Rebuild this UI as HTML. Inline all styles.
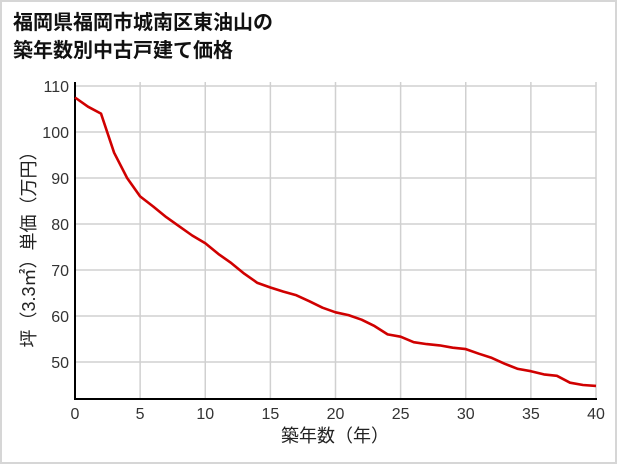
<!DOCTYPE html>
<html><head><meta charset="utf-8"><style>
body{margin:0;background:#fff;}
svg{display:block;font-family:"Liberation Sans","Noto Sans CJK JP",sans-serif;}
</style></head><body>
<svg id="s" width="621" height="465" xmlns="http://www.w3.org/2000/svg">
<rect x="1" y="1" width="615" height="462" fill="#fff" stroke="#d6d6d6" stroke-width="2"/>
<text x="13" y="29" font-size="20" font-weight="bold" fill="#111">福岡県福岡市城南区東油山の</text>
<text x="13" y="57" font-size="20" font-weight="bold" fill="#111">築年数別中古戸建て価格</text>
<g id="g" stroke="#d0d0d0" stroke-width="1.5"></g>
<g id="t" font-size="16" fill="#333"></g>
<line x1="75" y1="82" x2="75" y2="399" stroke="#000" stroke-width="2"/>
<line x1="74" y1="399" x2="597" y2="399" stroke="#000" stroke-width="2"/>
<path id="p" fill="none" stroke="#d00000" stroke-width="2.6" stroke-linejoin="round"/>
<text x="335" y="442" font-size="18" fill="#222" text-anchor="middle">築年数（年）</text>
<text transform="translate(35,245) rotate(-90)" font-size="18" fill="#222" text-anchor="middle">坪（3.3㎡）単価（万円）</text>
</svg>
<script>
var X=function(t){return 75+t*13.025},Y=function(v){return 86+(110-v)*4.6};
var g=document.getElementById('g'),tt=document.getElementById('t'),h='';
var s='';
for(var k=1;k<=8;k++){s+='<line x1="'+X(k*5)+'" y1="82" x2="'+X(k*5)+'" y2="399"/>';}
for(var v=50;v<=110;v+=10){s+='<line x1="75" y1="'+Y(v)+'" x2="596" y2="'+Y(v)+'"/>';h+='<text x="69" y="'+(Y(v)+6)+'" text-anchor="end">'+v+'</text>';}
for(var k=0;k<=8;k++){h+='<text x="'+X(k*5)+'" y="419" text-anchor="middle">'+(k*5)+'</text>';}
g.innerHTML=s;tt.innerHTML=h;
var d=[107.5,105.5,104,95.5,90,86,83.8,81.5,79.5,77.5,75.8,73.5,71.5,69.2,67.2,66.2,65.3,64.5,63.2,61.8,60.8,60.2,59.2,57.8,56,55.5,54.3,53.9,53.6,53.1,52.8,51.8,50.9,49.6,48.5,48,47.3,47,45.5,45,44.8];
var p='';d.forEach(function(v,i){p+=(i?'L':'M')+X(i).toFixed(1)+' '+Y(v).toFixed(1)});
document.getElementById('p').setAttribute('d',p);
</script>
</body></html>
